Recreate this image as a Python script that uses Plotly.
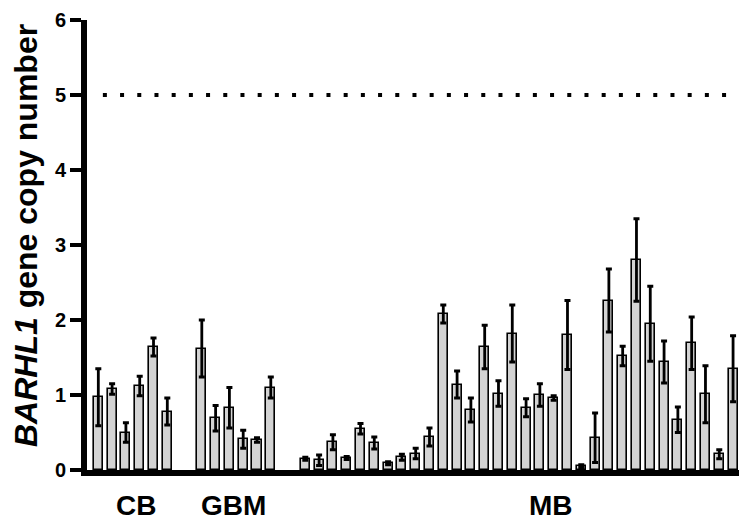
import plotly.graph_objects as go

# ---- data ----
cb_means = [0.97, 1.08, 0.50, 1.12, 1.64, 0.78]
cb_err = [0.38, 0.07, 0.13, 0.13, 0.12, 0.18]
gbm_means = [1.62, 0.69, 0.83, 0.41, 0.40, 1.10]
gbm_err = [0.38, 0.17, 0.27, 0.12, 0.03, 0.14]
mb_means = [0.15, 0.13, 0.37, 0.16, 0.55, 0.36, 0.09, 0.17, 0.22, 0.44,
            2.08, 1.14, 0.80, 1.64, 1.02, 1.82, 0.83, 1.00, 0.96, 1.80,
            0.05, 0.43, 2.26, 1.52, 2.80, 1.95, 1.44, 0.67, 1.69, 1.01,
            0.21, 1.35]
mb_err = [0.02, 0.07, 0.10, 0.02, 0.07, 0.08, 0.02, 0.04, 0.07, 0.12,
          0.12, 0.18, 0.16, 0.29, 0.17, 0.38, 0.12, 0.15, 0.03, 0.46,
          0.02, 0.33, 0.42, 0.13, 0.55, 0.50, 0.28, 0.17, 0.35, 0.38,
          0.06, 0.44]
group_labels = ["CB", "GBM", "MB"]
threshold = 5
y_ticks = [0, 1, 2, 3, 4, 5, 6]

# ---- positions (layout) ----
cb_x = [i for i in range(len(cb_means))]
gbm_x = [7.5 + i for i in range(len(gbm_means))]
mb_x = [15 + i for i in range(len(mb_means))]
label_x = [2.73, 9.8, 32.8]

FONT = "Liberation Sans, Arial, sans-serif"

fig = go.Figure()
for xs, ys, es in [(cb_x, cb_means, cb_err), (gbm_x, gbm_means, gbm_err), (mb_x, mb_means, mb_err)]:
    fig.add_trace(go.Bar(
        x=xs, y=ys, width=0.66,
        marker=dict(color="#d3d3d3", line=dict(color="black", width=1.6)),
        error_y=dict(type="data", array=es, symmetric=True, color="black",
                     thickness=2.8, width=3),
        showlegend=False,
    ))

fig.add_shape(type="line", xref="x", yref="y", x0=0.33, x1=46.45,
              y0=threshold, y1=threshold,
              line=dict(color="black", width=4, dash="4px,13.2px"))

for lab, lx in zip(group_labels, label_x):
    fig.add_annotation(x=lx, y=0, xref="x", yref="paper", text="<b>" + lab + "</b>",
                       showarrow=False, yshift=-35, yanchor="middle",
                       font=dict(family=FONT, size=28, color="black"))

fig.add_annotation(x=0, y=0.52, xref="paper", yref="paper",
                   text="<b><i>BARHL1</i> gene copy number</b>",
                   textangle=-90, showarrow=False, xshift=-61,
                   xanchor="center", yanchor="middle",
                   font=dict(family=FONT, size=32, color="black"))

fig.update_layout(
    width=739, height=523,
    margin=dict(l=87, r=0, t=20, b=53),
    paper_bgcolor="white", plot_bgcolor="white",
    bargap=0,
    xaxis=dict(range=[-0.82, 46.43], showline=True, linecolor="black",
               linewidth=6, ticks="", showticklabels=False,
               showgrid=False, zeroline=False),
    yaxis=dict(range=[0, 6], tickvals=y_ticks,
               ticktext=["<b>%d</b>" % v for v in y_ticks],
               showline=True,
               linecolor="black", linewidth=6, ticks="outside",
               ticklen=11, tickwidth=4, tickcolor="black",
               showgrid=False, zeroline=False,
               tickfont=dict(family=FONT, size=20, color="black")),
)

fig.write_html("out.html", config={"displayModeBar": False},
               post_script="document.body.style.margin='0px';document.body.style.overflow='hidden';")
